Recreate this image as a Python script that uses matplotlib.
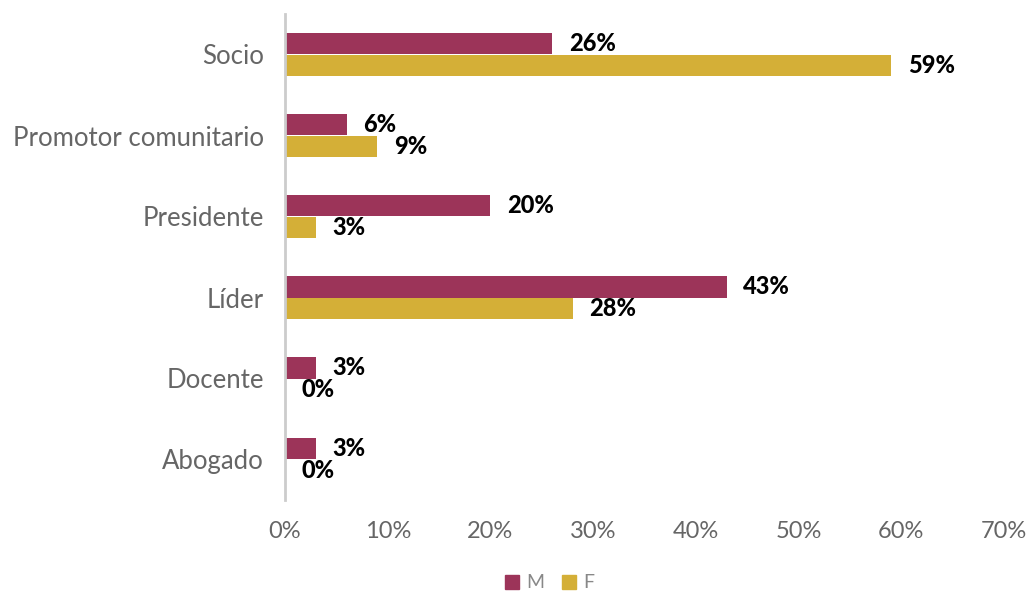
import matplotlib
matplotlib.use('Agg')
import matplotlib.pyplot as plt
from matplotlib.patches import Patch
import numpy as np

# Roles and share of respondents by sex
categories = ['Socio', 'Promotor comunitario', 'Presidente', 'Líder', 'Docente', 'Abogado']
m_values = [0.26, 0.06, 0.20, 0.43, 0.03, 0.03]
f_values = [0.59, 0.09, 0.03, 0.28, 0.00, 0.00]
xticks = [0, 0.1, 0.2, 0.3, 0.4, 0.5, 0.6, 0.7]

col_m = '#9C3459'
col_f = '#D4AF37'

fig = plt.figure(figsize=(10.29, 5.97), dpi=100)
ax = fig.add_axes([285 / 1029, 1 - 500 / 597, (1004 - 285) / 1029, (500 - 14) / 597])

y = np.arange(len(categories))
h = 0.265
ax.barh(y - h / 2, m_values, height=h, color=col_m, label='M')
ax.barh(y + h / 2, f_values, height=h, color=col_f, label='F')

# percentage labels at the end of each bar
for yi, v in list(zip(y - h / 2, m_values)) + list(zip(y + h / 2, f_values)):
    ax.annotate(f'{v:.0%}', (v, yi), xytext=(12, 0), textcoords='offset points',
                va='center', ha='left', fontsize=17, fontweight='black',
                family='Lato', color='black')

ax.set_ylim(len(categories) - 0.5, -0.5)
ax.set_xlim(0, 0.70)
ax.set_yticks(y)
ax.set_yticklabels(categories, family='Lato', fontweight='normal', fontsize=18.5, color='#666666')
ax.set_xticks(xticks)
ax.set_xticklabels([f'{t:.0%}' for t in xticks], family='Lato', fontweight='normal',
                   fontsize=17, color='#666666')
ax.tick_params(length=0)
ax.tick_params(axis='y', pad=15)
ax.tick_params(axis='x', pad=15)
for s in ['top', 'right', 'bottom']:
    ax.spines[s].set_visible(False)
ax.spines['left'].set_color('#cccccc')
ax.spines['left'].set_linewidth(2)

handles = [Patch(color=col_m, label='M'), Patch(color=col_f, label='F')]
fig.legend(handles=handles, loc='center', bbox_to_anchor=(550 / 1029, 1 - 583 / 597),
           ncol=2, frameon=False, handlelength=0.7, handleheight=0.7, handletextpad=0.4,
           columnspacing=0.9, prop={'family': 'Lato', 'weight': 'normal', 'size': 14},
           labelcolor='#888888')

fig.savefig('out.png', dpi=100)
